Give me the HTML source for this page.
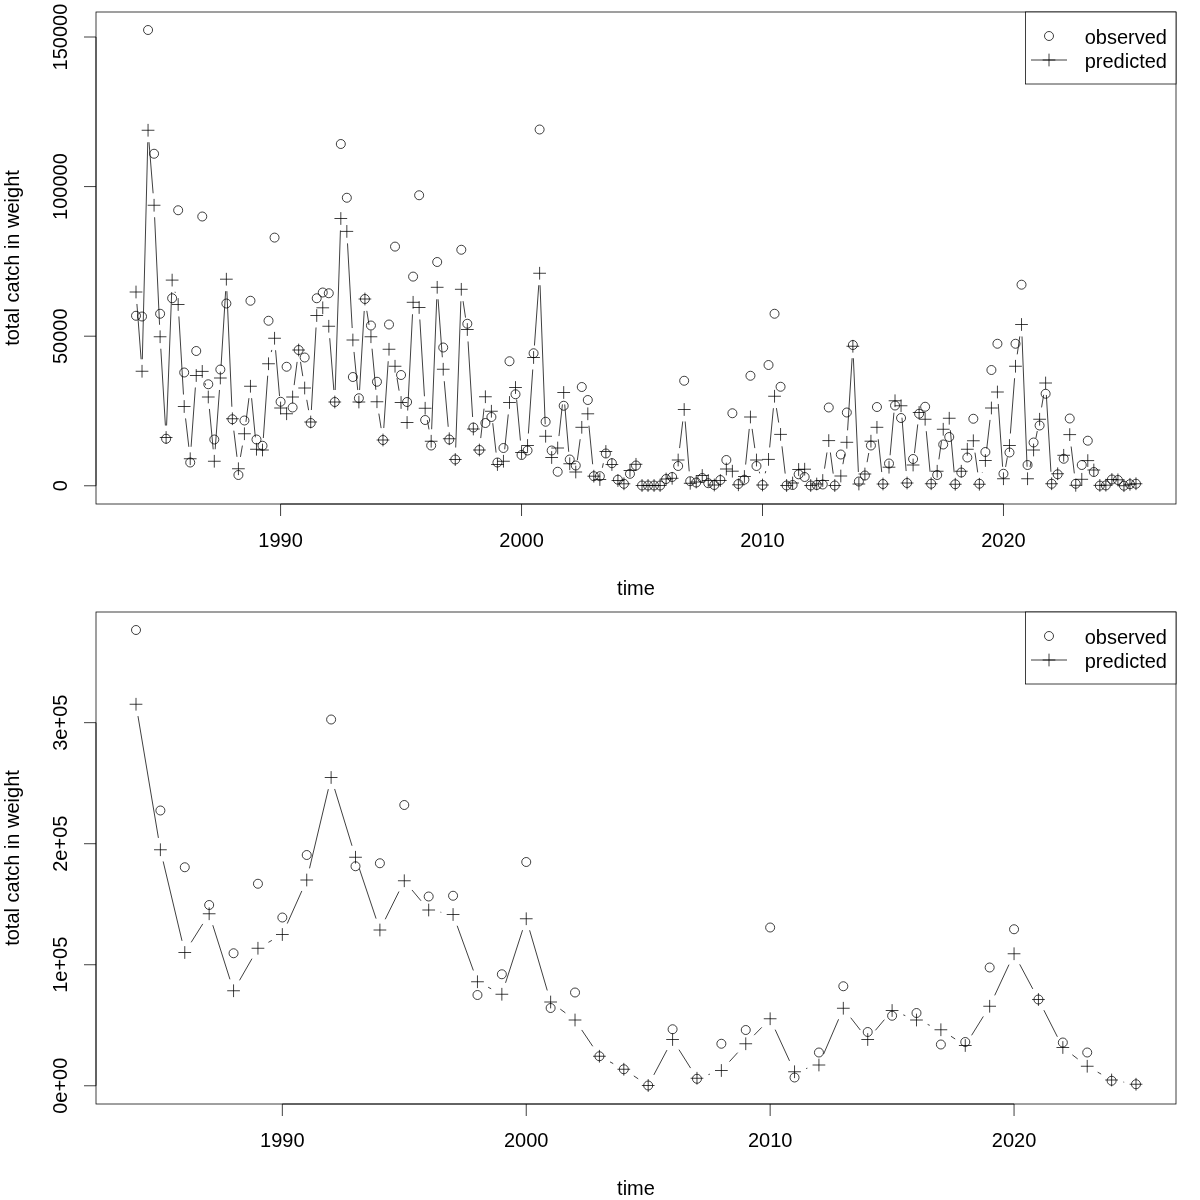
<!DOCTYPE html>
<html><head><meta charset="utf-8"><style>
html,body{margin:0;padding:0;background:#fff;}
svg{display:block;}
</style></head><body>
<svg width="1200" height="1200" viewBox="0 0 1200 1200">
<rect width="1200" height="1200" fill="#fff"/>
<g fill="none" stroke="#000" stroke-width="0.75">
<rect x="96" y="12" width="1080" height="492" fill="none"/>
<path d="M280.58 504H1003.47M280.58 504V516M521.54 504V516M762.51 504V516M1003.47 504V516"/>
<path d="M96 485.78V37M96 485.78H84M96 336.19H84M96 186.59H84M96 37H84"/>
<circle cx="136" cy="315.75" r="4.5"/>
<circle cx="142.02" cy="316.5" r="4.5"/>
<circle cx="148.05" cy="30" r="4.5"/>
<circle cx="154.07" cy="153.75" r="4.5"/>
<circle cx="160.1" cy="313.75" r="4.5"/>
<circle cx="166.12" cy="438.75" r="4.5"/>
<circle cx="172.14" cy="298.25" r="4.5"/>
<circle cx="178.17" cy="210.25" r="4.5"/>
<circle cx="184.19" cy="372.5" r="4.5"/>
<circle cx="190.22" cy="462.5" r="4.5"/>
<circle cx="196.24" cy="351" r="4.5"/>
<circle cx="202.26" cy="216.5" r="4.5"/>
<circle cx="208.29" cy="384.25" r="4.5"/>
<circle cx="214.31" cy="439.5" r="4.5"/>
<circle cx="220.34" cy="369.5" r="4.5"/>
<circle cx="226.36" cy="303.5" r="4.5"/>
<circle cx="232.38" cy="419.25" r="4.5"/>
<circle cx="238.41" cy="475" r="4.5"/>
<circle cx="244.43" cy="420.5" r="4.5"/>
<circle cx="250.46" cy="300.75" r="4.5"/>
<circle cx="256.48" cy="439.5" r="4.5"/>
<circle cx="262.5" cy="445.75" r="4.5"/>
<circle cx="268.53" cy="320.75" r="4.5"/>
<circle cx="274.55" cy="237.6" r="4.5"/>
<circle cx="280.58" cy="401.75" r="4.5"/>
<circle cx="286.6" cy="366.75" r="4.5"/>
<circle cx="292.62" cy="407.5" r="4.5"/>
<circle cx="298.65" cy="350" r="4.5"/>
<circle cx="304.67" cy="357.5" r="4.5"/>
<circle cx="310.7" cy="423" r="4.5"/>
<circle cx="316.72" cy="298.25" r="4.5"/>
<circle cx="322.74" cy="292.5" r="4.5"/>
<circle cx="328.77" cy="293.25" r="4.5"/>
<circle cx="334.79" cy="402" r="4.5"/>
<circle cx="340.82" cy="144" r="4.5"/>
<circle cx="346.84" cy="197.75" r="4.5"/>
<circle cx="352.86" cy="377" r="4.5"/>
<circle cx="358.89" cy="398.25" r="4.5"/>
<circle cx="364.91" cy="299" r="4.5"/>
<circle cx="370.94" cy="325.5" r="4.5"/>
<circle cx="376.96" cy="381.75" r="4.5"/>
<circle cx="382.98" cy="440" r="4.5"/>
<circle cx="389.01" cy="324.5" r="4.5"/>
<circle cx="395.03" cy="246.6" r="4.5"/>
<circle cx="401.06" cy="375" r="4.5"/>
<circle cx="407.08" cy="402" r="4.5"/>
<circle cx="413.1" cy="276.6" r="4.5"/>
<circle cx="419.13" cy="195.25" r="4.5"/>
<circle cx="425.15" cy="420" r="4.5"/>
<circle cx="431.18" cy="445.5" r="4.5"/>
<circle cx="437.2" cy="262" r="4.5"/>
<circle cx="443.22" cy="347.5" r="4.5"/>
<circle cx="449.25" cy="439.5" r="4.5"/>
<circle cx="455.27" cy="459.5" r="4.5"/>
<circle cx="461.3" cy="249.75" r="4.5"/>
<circle cx="467.32" cy="323.75" r="4.5"/>
<circle cx="473.34" cy="427.5" r="4.5"/>
<circle cx="479.37" cy="450" r="4.5"/>
<circle cx="485.39" cy="423" r="4.5"/>
<circle cx="491.42" cy="417" r="4.5"/>
<circle cx="497.44" cy="462.5" r="4.5"/>
<circle cx="503.46" cy="448" r="4.5"/>
<circle cx="509.49" cy="361.25" r="4.5"/>
<circle cx="515.51" cy="394.25" r="4.5"/>
<circle cx="521.54" cy="455" r="4.5"/>
<circle cx="527.56" cy="450.5" r="4.5"/>
<circle cx="533.58" cy="353.25" r="4.5"/>
<circle cx="539.61" cy="129.5" r="4.5"/>
<circle cx="545.63" cy="421.75" r="4.5"/>
<circle cx="551.66" cy="450.5" r="4.5"/>
<circle cx="557.68" cy="471.75" r="4.5"/>
<circle cx="563.7" cy="405.75" r="4.5"/>
<circle cx="569.73" cy="459.5" r="4.5"/>
<circle cx="575.75" cy="465.5" r="4.5"/>
<circle cx="581.78" cy="387" r="4.5"/>
<circle cx="587.8" cy="400" r="4.5"/>
<circle cx="593.82" cy="476.2" r="4.5"/>
<circle cx="599.85" cy="476.2" r="4.5"/>
<circle cx="605.87" cy="453.5" r="4.5"/>
<circle cx="611.9" cy="463.2" r="4.5"/>
<circle cx="617.92" cy="479.7" r="4.5"/>
<circle cx="623.94" cy="483.8" r="4.5"/>
<circle cx="629.97" cy="473.8" r="4.5"/>
<circle cx="635.99" cy="465.5" r="4.5"/>
<circle cx="642.02" cy="485.5" r="4.5"/>
<circle cx="648.04" cy="485.5" r="4.5"/>
<circle cx="654.06" cy="485.5" r="4.5"/>
<circle cx="660.09" cy="485.5" r="4.5"/>
<circle cx="666.11" cy="479" r="4.5"/>
<circle cx="672.14" cy="477" r="4.5"/>
<circle cx="678.16" cy="466" r="4.5"/>
<circle cx="684.18" cy="380.75" r="4.5"/>
<circle cx="690.21" cy="481.2" r="4.5"/>
<circle cx="696.23" cy="482.5" r="4.5"/>
<circle cx="702.26" cy="478" r="4.5"/>
<circle cx="708.28" cy="483.2" r="4.5"/>
<circle cx="714.3" cy="485" r="4.5"/>
<circle cx="720.33" cy="480" r="4.5"/>
<circle cx="726.35" cy="460" r="4.5"/>
<circle cx="732.38" cy="413.25" r="4.5"/>
<circle cx="738.4" cy="484" r="4.5"/>
<circle cx="744.42" cy="479.7" r="4.5"/>
<circle cx="750.45" cy="375.75" r="4.5"/>
<circle cx="756.47" cy="466" r="4.5"/>
<circle cx="762.5" cy="485" r="4.5"/>
<circle cx="768.52" cy="365" r="4.5"/>
<circle cx="774.54" cy="313.75" r="4.5"/>
<circle cx="780.57" cy="386.75" r="4.5"/>
<circle cx="786.59" cy="485.5" r="4.5"/>
<circle cx="792.62" cy="485" r="4.5"/>
<circle cx="798.64" cy="474.3" r="4.5"/>
<circle cx="804.66" cy="477" r="4.5"/>
<circle cx="810.69" cy="485.5" r="4.5"/>
<circle cx="816.71" cy="485" r="4.5"/>
<circle cx="822.74" cy="484.5" r="4.5"/>
<circle cx="828.76" cy="407.5" r="4.5"/>
<circle cx="834.78" cy="485.5" r="4.5"/>
<circle cx="840.81" cy="454.5" r="4.5"/>
<circle cx="846.83" cy="412.5" r="4.5"/>
<circle cx="852.86" cy="345" r="4.5"/>
<circle cx="858.88" cy="481.5" r="4.5"/>
<circle cx="864.9" cy="475.5" r="4.5"/>
<circle cx="870.93" cy="445.5" r="4.5"/>
<circle cx="876.95" cy="407" r="4.5"/>
<circle cx="882.98" cy="484" r="4.5"/>
<circle cx="889" cy="463.5" r="4.5"/>
<circle cx="895.02" cy="405.5" r="4.5"/>
<circle cx="901.05" cy="418" r="4.5"/>
<circle cx="907.07" cy="483" r="4.5"/>
<circle cx="913.1" cy="459" r="4.5"/>
<circle cx="919.12" cy="413.75" r="4.5"/>
<circle cx="925.14" cy="406.75" r="4.5"/>
<circle cx="931.17" cy="483.75" r="4.5"/>
<circle cx="937.19" cy="475" r="4.5"/>
<circle cx="943.22" cy="444.5" r="4.5"/>
<circle cx="949.24" cy="437" r="4.5"/>
<circle cx="955.26" cy="484.25" r="4.5"/>
<circle cx="961.29" cy="472.5" r="4.5"/>
<circle cx="967.31" cy="457.5" r="4.5"/>
<circle cx="973.34" cy="418.75" r="4.5"/>
<circle cx="979.36" cy="483.75" r="4.5"/>
<circle cx="985.38" cy="452" r="4.5"/>
<circle cx="991.41" cy="370" r="4.5"/>
<circle cx="997.43" cy="343.75" r="4.5"/>
<circle cx="1003.46" cy="473.75" r="4.5"/>
<circle cx="1009.48" cy="452.5" r="4.5"/>
<circle cx="1015.5" cy="343.75" r="4.5"/>
<circle cx="1021.53" cy="284.7" r="4.5"/>
<circle cx="1027.55" cy="465" r="4.5"/>
<circle cx="1033.58" cy="442.5" r="4.5"/>
<circle cx="1039.6" cy="425.5" r="4.5"/>
<circle cx="1045.62" cy="393.75" r="4.5"/>
<circle cx="1051.65" cy="483.75" r="4.5"/>
<circle cx="1057.67" cy="474.3" r="4.5"/>
<circle cx="1063.7" cy="458.75" r="4.5"/>
<circle cx="1069.72" cy="418.5" r="4.5"/>
<circle cx="1075.74" cy="483.75" r="4.5"/>
<circle cx="1081.77" cy="465" r="4.5"/>
<circle cx="1087.79" cy="440.7" r="4.5"/>
<circle cx="1093.82" cy="472" r="4.5"/>
<circle cx="1099.84" cy="485.6" r="4.5"/>
<circle cx="1105.86" cy="485.4" r="4.5"/>
<circle cx="1111.89" cy="479.5" r="4.5"/>
<circle cx="1117.91" cy="480" r="4.5"/>
<circle cx="1123.94" cy="485.7" r="4.5"/>
<circle cx="1129.96" cy="484.2" r="4.5"/>
<circle cx="1135.98" cy="483.75" r="4.5"/>
<path d="M129.64 292H142.36M136 285.64V298.36"/>
<path d="M135.66 371.25H148.39M142.02 364.89V377.61"/>
<path d="M141.68 130.25H154.41M148.05 123.89V136.61"/>
<path d="M147.71 205.25H160.44M154.07 198.89V211.61"/>
<path d="M153.73 336.75H166.46M160.1 330.39V343.11"/>
<path d="M159.76 437.5H172.48M166.12 431.14V443.86"/>
<path d="M165.78 280.1H178.51M172.14 273.74V286.46"/>
<path d="M171.8 304.5H184.53M178.17 298.14V310.86"/>
<path d="M177.83 406.5H190.56M184.19 400.14V412.86"/>
<path d="M183.85 458.75H196.58M190.22 452.39V465.11"/>
<path d="M189.88 375.5H202.6M196.24 369.14V381.86"/>
<path d="M195.9 371.4H208.63M202.26 365.04V377.76"/>
<path d="M201.92 397H214.65M208.29 390.64V403.36"/>
<path d="M207.95 461.25H220.68M214.31 454.89V467.61"/>
<path d="M213.97 378H226.7M220.34 371.64V384.36"/>
<path d="M220 279.2H232.72M226.36 272.84V285.56"/>
<path d="M226.02 418.75H238.75M232.38 412.39V425.11"/>
<path d="M232.04 468.75H244.77M238.41 462.39V475.11"/>
<path d="M238.07 433.75H250.8M244.43 427.39V440.11"/>
<path d="M244.09 386.25H256.82M250.46 379.89V392.61"/>
<path d="M250.12 449.25H262.84M256.48 442.89V455.61"/>
<path d="M256.14 450H268.87M262.5 443.64V456.36"/>
<path d="M262.16 363.75H274.89M268.53 357.39V370.11"/>
<path d="M268.19 338.25H280.92M274.55 331.89V344.61"/>
<path d="M274.21 408H286.94M280.58 401.64V414.36"/>
<path d="M280.24 413.75H292.96M286.6 407.39V420.11"/>
<path d="M286.26 397H298.99M292.62 390.64V403.36"/>
<path d="M292.28 350H305.01M298.65 343.64V356.36"/>
<path d="M298.31 388H311.04M304.67 381.64V394.36"/>
<path d="M304.33 422H317.06M310.7 415.64V428.36"/>
<path d="M310.36 315.5H323.08M316.72 309.14V321.86"/>
<path d="M316.38 307.8H329.11M322.74 301.44V314.16"/>
<path d="M322.4 326.25H335.13M328.77 319.89V332.61"/>
<path d="M328.43 402H341.16M334.79 395.64V408.36"/>
<path d="M334.45 218.5H347.18M340.82 212.14V224.86"/>
<path d="M340.48 231.4H353.2M346.84 225.04V237.76"/>
<path d="M346.5 340H359.23M352.86 333.64V346.36"/>
<path d="M352.52 402H365.25M358.89 395.64V408.36"/>
<path d="M358.55 299H371.28M364.91 292.64V305.36"/>
<path d="M364.57 336.75H377.3M370.94 330.39V343.11"/>
<path d="M370.6 401.75H383.32M376.96 395.39V408.11"/>
<path d="M376.62 440H389.35M382.98 433.64V446.36"/>
<path d="M382.64 349.25H395.37M389.01 342.89V355.61"/>
<path d="M388.67 366.25H401.4M395.03 359.89V372.61"/>
<path d="M394.69 402.5H407.42M401.06 396.14V408.86"/>
<path d="M400.72 422.5H413.44M407.08 416.14V428.86"/>
<path d="M406.74 302.3H419.47M413.1 295.94V308.66"/>
<path d="M412.76 307.5H425.49M419.13 301.14V313.86"/>
<path d="M418.79 408.25H431.52M425.15 401.89V414.61"/>
<path d="M424.81 441.25H437.54M431.18 434.89V447.61"/>
<path d="M430.84 287.3H443.56M437.2 280.94V293.66"/>
<path d="M436.86 369.25H449.59M443.22 362.89V375.61"/>
<path d="M442.88 438.75H455.61M449.25 432.39V445.11"/>
<path d="M448.91 459.5H461.64M455.27 453.14V465.86"/>
<path d="M454.93 289.3H467.66M461.3 282.94V295.66"/>
<path d="M460.96 329.5H473.68M467.32 323.14V335.86"/>
<path d="M466.98 429H479.71M473.34 422.64V435.36"/>
<path d="M473 450H485.73M479.37 443.64V456.36"/>
<path d="M479.03 396.75H491.76M485.39 390.39V403.11"/>
<path d="M485.05 411.25H497.78M491.42 404.89V417.61"/>
<path d="M491.08 464.5H503.8M497.44 458.14V470.86"/>
<path d="M497.1 461.25H509.83M503.46 454.89V467.61"/>
<path d="M503.12 402.5H515.85M509.49 396.14V408.86"/>
<path d="M509.15 387.5H521.88M515.51 381.14V393.86"/>
<path d="M515.17 452.5H527.9M521.54 446.14V458.86"/>
<path d="M521.2 445.5H533.92M527.56 439.14V451.86"/>
<path d="M527.22 357.5H539.95M533.58 351.14V363.86"/>
<path d="M533.24 273.25H545.97M539.61 266.89V279.61"/>
<path d="M539.27 436.25H552M545.63 429.89V442.61"/>
<path d="M545.29 457.5H558.02M551.66 451.14V463.86"/>
<path d="M551.32 448H564.04M557.68 441.64V454.36"/>
<path d="M557.34 392.5H570.07M563.7 386.14V398.86"/>
<path d="M563.36 463.75H576.09M569.73 457.39V470.11"/>
<path d="M569.39 472H582.12M575.75 465.64V478.36"/>
<path d="M575.41 427.3H588.14M581.78 420.94V433.66"/>
<path d="M581.44 413.8H594.16M587.8 407.44V420.16"/>
<path d="M587.46 476.2H600.19M593.82 469.84V482.56"/>
<path d="M593.48 479.5H606.21M599.85 473.14V485.86"/>
<path d="M599.51 451.5H612.24M605.87 445.14V457.86"/>
<path d="M605.53 464.5H618.26M611.9 458.14V470.86"/>
<path d="M611.56 480.5H624.28M617.92 474.14V486.86"/>
<path d="M617.58 483.8H630.31M623.94 477.44V490.16"/>
<path d="M623.6 470.5H636.33M629.97 464.14V476.86"/>
<path d="M629.63 464.3H642.36M635.99 457.94V470.66"/>
<path d="M635.65 485.5H648.38M642.02 479.14V491.86"/>
<path d="M641.68 485.5H654.4M648.04 479.14V491.86"/>
<path d="M647.7 485.5H660.43M654.06 479.14V491.86"/>
<path d="M653.72 485.5H666.45M660.09 479.14V491.86"/>
<path d="M659.75 479H672.48M666.11 472.64V485.36"/>
<path d="M665.77 478.3H678.5M672.14 471.94V484.66"/>
<path d="M671.8 460H684.52M678.16 453.64V466.36"/>
<path d="M677.82 409.5H690.55M684.18 403.14V415.86"/>
<path d="M683.84 483.3H696.57M690.21 476.94V489.66"/>
<path d="M689.87 482H702.6M696.23 475.64V488.36"/>
<path d="M695.89 475.5H708.62M702.26 469.14V481.86"/>
<path d="M701.92 480.5H714.64M708.28 474.14V486.86"/>
<path d="M707.94 485H720.67M714.3 478.64V491.36"/>
<path d="M713.96 480.5H726.69M720.33 474.14V486.86"/>
<path d="M719.99 469H732.72M726.35 462.64V475.36"/>
<path d="M726.01 471.2H738.74M732.38 464.84V477.56"/>
<path d="M732.04 484.8H744.76M738.4 478.44V491.16"/>
<path d="M738.06 476.5H750.79M744.42 470.14V482.86"/>
<path d="M744.08 417H756.81M750.45 410.64V423.36"/>
<path d="M750.11 460H762.84M756.47 453.64V466.36"/>
<path d="M756.13 485H768.86M762.5 478.64V491.36"/>
<path d="M762.16 459.4H774.88M768.52 453.04V465.76"/>
<path d="M768.18 396.25H780.91M774.54 389.89V402.61"/>
<path d="M774.2 434.4H786.93M780.57 428.04V440.76"/>
<path d="M780.23 485.5H792.96M786.59 479.14V491.86"/>
<path d="M786.25 483H798.98M792.62 476.64V489.36"/>
<path d="M792.28 469.5H805M798.64 463.14V475.86"/>
<path d="M798.3 469.2H811.03M804.66 462.84V475.56"/>
<path d="M804.32 485.5H817.05M810.69 479.14V491.86"/>
<path d="M810.35 484H823.08M816.71 477.64V490.36"/>
<path d="M816.37 480.5H829.1M822.74 474.14V486.86"/>
<path d="M822.4 440.6H835.12M828.76 434.24V446.96"/>
<path d="M828.42 485.5H841.15M834.78 479.14V491.86"/>
<path d="M834.44 476H847.17M840.81 469.64V482.36"/>
<path d="M840.47 442.3H853.2M846.83 435.94V448.66"/>
<path d="M846.49 346.25H859.22M852.86 339.89V352.61"/>
<path d="M852.52 484H865.24M858.88 477.64V490.36"/>
<path d="M858.54 474H871.27M864.9 467.64V480.36"/>
<path d="M864.56 441.2H877.29M870.93 434.84V447.56"/>
<path d="M870.59 427.3H883.32M876.95 420.94V433.66"/>
<path d="M876.61 484H889.34M882.98 477.64V490.36"/>
<path d="M882.64 467.2H895.36M889 460.84V473.56"/>
<path d="M888.66 400.75H901.39M895.02 394.39V407.11"/>
<path d="M894.68 405.75H907.41M901.05 399.39V412.11"/>
<path d="M900.71 483H913.44M907.07 476.64V489.36"/>
<path d="M906.73 465H919.46M913.1 458.64V471.36"/>
<path d="M912.76 412.5H925.48M919.12 406.14V418.86"/>
<path d="M918.78 419.25H931.51M925.14 412.89V425.61"/>
<path d="M924.8 483.75H937.53M931.17 477.39V490.11"/>
<path d="M930.83 471.25H943.56M937.19 464.89V477.61"/>
<path d="M936.85 429.25H949.58M943.22 422.89V435.61"/>
<path d="M942.88 418.25H955.6M949.24 411.89V424.61"/>
<path d="M948.9 484.25H961.63M955.26 477.89V490.61"/>
<path d="M954.92 471.25H967.65M961.29 464.89V477.61"/>
<path d="M960.95 449.25H973.68M967.31 442.89V455.61"/>
<path d="M966.97 440.75H979.7M973.34 434.39V447.11"/>
<path d="M973 484.25H985.72M979.36 477.89V490.61"/>
<path d="M979.02 460.5H991.75M985.38 454.14V466.86"/>
<path d="M985.04 408H997.77M991.41 401.64V414.36"/>
<path d="M991.07 392H1003.8M997.43 385.64V398.36"/>
<path d="M997.09 478.75H1009.82M1003.46 472.39V485.11"/>
<path d="M1003.12 445.5H1015.84M1009.48 439.14V451.86"/>
<path d="M1009.14 366.25H1021.87M1015.5 359.89V372.61"/>
<path d="M1015.16 324.5H1027.89M1021.53 318.14V330.86"/>
<path d="M1021.19 478.75H1033.92M1027.55 472.39V485.11"/>
<path d="M1027.21 450H1039.94M1033.58 443.64V456.36"/>
<path d="M1033.24 419.25H1045.96M1039.6 412.89V425.61"/>
<path d="M1039.26 383H1051.99M1045.62 376.64V389.36"/>
<path d="M1045.28 483.75H1058.01M1051.65 477.39V490.11"/>
<path d="M1051.31 473.75H1064.04M1057.67 467.39V480.11"/>
<path d="M1057.33 455.3H1070.06M1063.7 448.94V461.66"/>
<path d="M1063.36 434.6H1076.08M1069.72 428.24V440.96"/>
<path d="M1069.38 485.3H1082.11M1075.74 478.94V491.66"/>
<path d="M1075.4 479.3H1088.13M1081.77 472.94V485.66"/>
<path d="M1081.43 460.6H1094.16M1087.79 454.24V466.96"/>
<path d="M1087.45 470H1100.18M1093.82 463.64V476.36"/>
<path d="M1093.48 485.4H1106.2M1099.84 479.04V491.76"/>
<path d="M1099.5 485.2H1112.23M1105.86 478.84V491.56"/>
<path d="M1105.52 479.5H1118.25M1111.89 473.14V485.86"/>
<path d="M1111.55 479.8H1124.28M1117.91 473.44V486.16"/>
<path d="M1117.57 485.7H1130.3M1123.94 479.34V492.06"/>
<path d="M1123.6 484.3H1136.32M1129.96 477.94V490.66"/>
<path d="M1129.62 483.75H1142.35M1135.98 477.39V490.11"/>
<path d="M136.91 303.97L141.11 359.28M142.32 359.25L147.75 142.25M149.01 142.21L153.11 193.29M154.62 217.24L159.55 324.76M160.81 348.73L165.4 425.52M166.58 425.51L171.69 292.09M175.02 291.75L175.29 292.85M178.88 316.48L183.48 394.52M185.57 418.42L188.84 446.83M191.08 446.78L195.37 387.47M205.01 383.08L205.54 385.32M209.41 408.95L213.19 449.3M215.18 449.28L219.47 389.97M221.07 366.02L225.63 291.18M226.88 291.19L231.87 406.76M233.82 430.66L236.97 456.84M240.44 456.92L242.4 445.58M245.94 421.85L248.95 398.15M251.6 398.2L255.34 437.3M263.34 438.03L267.69 375.72M271.29 352.07L271.79 349.93M275.58 350.21L279.54 396.04M294.15 385.1L297.12 361.9M300.53 361.85L302.79 376.15M306.77 399.82L308.6 410.18M311.37 410.02L316.04 327.48M329.72 338.21L333.84 390.04M335.19 390.01L340.42 230.49M347.5 243.38L352.2 328.02M354.02 351.94L357.73 390.06M359.59 390.02L364.21 310.98M366.8 310.85L369.05 324.9M372.04 348.7L375.85 389.8M378.83 413.6L381.12 428.15M383.78 428.03L388.21 361.22M397 378.09L399.09 390.66M407.68 410.52L412.5 314.28M419.84 319.48L424.44 396.27M427.31 420.05L429.02 429.45M431.65 429.26L436.73 299.29M438.08 299.27L442.34 357.28M444.26 381.21L448.21 426.79M455.7 447.51L460.87 301.29M463.07 301.17L465.54 317.63M468.05 341.48L472.62 417.02M480.72 438.08L484.04 408.67M492.76 423.17L496.09 452.58M504.69 449.31L508.26 414.44M516.62 399.45L520.43 440.55M528.38 433.53L532.76 369.47M534.44 345.53L538.75 285.22M540.05 285.24L545.19 424.26M558.97 436.07L562.41 404.43M564.71 404.46L568.72 451.79M577.35 460.11L580.17 439.19M588.95 425.74L592.67 464.26M602.37 467.77L603.35 463.23M679.58 448.08L682.76 421.42M685.16 421.46L689.23 471.34M745.63 464.56L749.24 428.94M752.11 428.88L754.81 448.12M759.28 471.67L759.68 473.33M765.24 473.32L765.77 471.08M769.66 447.45L773.4 408.2M776.42 408.1L778.7 422.55M781.97 446.32L785.19 473.58M824.53 468.63L826.97 452.47M830.36 452.49L833.19 473.61M842.92 464.19L844.72 454.11M847.58 430.32L852.1 358.23M853.38 358.24L858.36 472.01M867.07 462.2L868.76 453M878.22 439.23L881.71 472.07M890.08 455.25L893.94 412.7M901.98 417.71L906.14 471.04M914.46 453.08L917.75 424.42M926.26 431.2L930.05 471.8M938.9 459.37L941.51 441.13M950.33 430.2L954.17 472.3M974.98 452.64L977.71 472.36M982.31 472.62L982.43 472.13M986.75 448.58L990.04 419.92M998.26 403.97L1002.62 466.78M1005.6 466.94L1007.34 457.31M1010.39 433.53L1014.59 378.22M1017.22 354.37L1019.81 336.38M1022 336.49L1027.08 466.76M1030.01 467.01L1031.12 461.74M1035.88 438.22L1037.29 431.03M1041.57 407.41L1043.66 394.84M1046.34 394.98L1050.93 471.77M1071.14 446.52L1074.33 473.38"/>
<rect x="1025.45" y="12" width="150.55" height="72" fill="#fff"/>
<circle cx="1049" cy="36" r="4.5"/>
<path d="M1031 60H1067"/>
<path d="M1042.64 60H1055.36M1049 53.64V66.36"/>
<rect x="96" y="612" width="1080" height="492" fill="none"/>
<path d="M282.34 1104H1014.05M282.34 1104V1116M526.24 1104V1116M770.15 1104V1116M1014.05 1104V1116"/>
<path d="M96 1085.78V722.67M96 1085.78H84M96 964.74H84M96 843.71H84M96 722.67H84"/>
<circle cx="136" cy="630" r="4.5"/>
<circle cx="160.39" cy="810.5" r="4.5"/>
<circle cx="184.78" cy="867.25" r="4.5"/>
<circle cx="209.17" cy="905" r="4.5"/>
<circle cx="233.56" cy="953.25" r="4.5"/>
<circle cx="257.95" cy="883.75" r="4.5"/>
<circle cx="282.34" cy="917.5" r="4.5"/>
<circle cx="306.73" cy="855" r="4.5"/>
<circle cx="331.12" cy="719.5" r="4.5"/>
<circle cx="355.51" cy="866.25" r="4.5"/>
<circle cx="379.9" cy="863.25" r="4.5"/>
<circle cx="404.29" cy="805" r="4.5"/>
<circle cx="428.68" cy="896.5" r="4.5"/>
<circle cx="453.07" cy="895.75" r="4.5"/>
<circle cx="477.46" cy="995" r="4.5"/>
<circle cx="501.85" cy="974.25" r="4.5"/>
<circle cx="526.24" cy="862" r="4.5"/>
<circle cx="550.63" cy="1008" r="4.5"/>
<circle cx="575.02" cy="992.5" r="4.5"/>
<circle cx="599.41" cy="1056.25" r="4.5"/>
<circle cx="623.8" cy="1069.25" r="4.5"/>
<circle cx="648.2" cy="1085.5" r="4.5"/>
<circle cx="672.59" cy="1029.25" r="4.5"/>
<circle cx="696.98" cy="1078.75" r="4.5"/>
<circle cx="721.37" cy="1043.75" r="4.5"/>
<circle cx="745.76" cy="1030" r="4.5"/>
<circle cx="770.15" cy="927.5" r="4.5"/>
<circle cx="794.54" cy="1077.5" r="4.5"/>
<circle cx="818.93" cy="1052.5" r="4.5"/>
<circle cx="843.32" cy="986.25" r="4.5"/>
<circle cx="867.71" cy="1032" r="4.5"/>
<circle cx="892.1" cy="1015.75" r="4.5"/>
<circle cx="916.49" cy="1013" r="4.5"/>
<circle cx="940.88" cy="1044.5" r="4.5"/>
<circle cx="965.27" cy="1042" r="4.5"/>
<circle cx="989.66" cy="967.5" r="4.5"/>
<circle cx="1014.05" cy="929.25" r="4.5"/>
<circle cx="1038.44" cy="999.5" r="4.5"/>
<circle cx="1062.83" cy="1042.5" r="4.5"/>
<circle cx="1087.22" cy="1052.5" r="4.5"/>
<circle cx="1111.61" cy="1080.75" r="4.5"/>
<circle cx="1136" cy="1084.25" r="4.5"/>
<path d="M129.64 704.25H142.36M136 697.89V710.61"/>
<path d="M154.03 849.75H166.75M160.39 843.39V856.11"/>
<path d="M178.42 952.5H191.14M184.78 946.14V958.86"/>
<path d="M202.81 913.75H215.53M209.17 907.39V920.11"/>
<path d="M227.2 990.75H239.92M233.56 984.39V997.11"/>
<path d="M251.59 948.25H264.32M257.95 941.89V954.61"/>
<path d="M275.98 934.5H288.71M282.34 928.14V940.86"/>
<path d="M300.37 880H313.1M306.73 873.64V886.36"/>
<path d="M324.76 777.5H337.49M331.12 771.14V783.86"/>
<path d="M349.15 857.25H361.88M355.51 850.89V863.61"/>
<path d="M373.54 930H386.27M379.9 923.64V936.36"/>
<path d="M397.93 880.75H410.66M404.29 874.39V887.11"/>
<path d="M422.32 910H435.05M428.68 903.64V916.36"/>
<path d="M446.71 914.5H459.44M453.07 908.14V920.86"/>
<path d="M471.1 981.75H483.83M477.46 975.39V988.11"/>
<path d="M495.49 994.25H508.22M501.85 987.89V1000.61"/>
<path d="M519.88 918.75H532.61M526.24 912.39V925.11"/>
<path d="M544.27 1002H557M550.63 995.64V1008.36"/>
<path d="M568.66 1020H581.39M575.02 1013.64V1026.36"/>
<path d="M593.05 1056.25H605.78M599.41 1049.89V1062.61"/>
<path d="M617.44 1069.25H630.17M623.8 1062.89V1075.61"/>
<path d="M641.83 1085.5H654.56M648.2 1079.14V1091.86"/>
<path d="M666.22 1039.5H678.95M672.59 1033.14V1045.86"/>
<path d="M690.61 1078.25H703.34M696.98 1071.89V1084.61"/>
<path d="M715 1070.5H727.73M721.37 1064.14V1076.86"/>
<path d="M739.39 1043.75H752.12M745.76 1037.39V1050.11"/>
<path d="M763.78 1018.75H776.51M770.15 1012.39V1025.11"/>
<path d="M788.17 1071.75H800.9M794.54 1065.39V1078.11"/>
<path d="M812.56 1065H825.29M818.93 1058.64V1071.36"/>
<path d="M836.95 1008.25H849.68M843.32 1001.89V1014.61"/>
<path d="M861.34 1039.5H874.07M867.71 1033.14V1045.86"/>
<path d="M885.73 1010.5H898.46M892.1 1004.14V1016.86"/>
<path d="M910.12 1020H922.85M916.49 1013.64V1026.36"/>
<path d="M934.51 1029.75H947.24M940.88 1023.39V1036.11"/>
<path d="M958.9 1045.5H971.63M965.27 1039.14V1051.86"/>
<path d="M983.29 1006.25H996.02M989.66 999.89V1012.61"/>
<path d="M1007.68 953.75H1020.41M1014.05 947.39V960.11"/>
<path d="M1032.08 999.5H1044.8M1038.44 993.14V1005.86"/>
<path d="M1056.47 1047.5H1069.19M1062.83 1041.14V1053.86"/>
<path d="M1080.86 1066.25H1093.58M1087.22 1059.89V1072.61"/>
<path d="M1105.25 1080H1117.97M1111.61 1073.64V1086.36"/>
<path d="M1129.64 1084.25H1142.36M1136 1077.89V1090.61"/>
<path d="M137.98 716.08L158.41 837.92M163.16 861.43L182.01 940.82M191.17 942.34L202.78 923.91M212.79 925.19L229.94 979.31M239.53 980.34L251.98 958.66M268.4 942.36L271.89 940.39M287.24 923.55L301.83 890.95M309.51 868.33L328.34 789.17M334.63 788.98L352 845.77M359.33 868.63L376.09 918.62M385.23 919.25L398.97 891.5M411.98 889.97L421 900.78M440.48 912.18L441.27 912.32M457.16 925.78L473.37 970.47M488.14 987.22L491.17 988.78M505.54 982.83L522.56 930.17M529.62 930.27L547.26 990.48M560.29 1009.13L565.37 1012.87M581.72 1029.96L592.72 1046.29M610 1061.89L613.22 1063.61M633.79 1075.9L638.21 1078.85M653.82 1074.9L666.96 1050.1M678.98 1049.66L690.58 1068.09M708.41 1074.62L709.93 1074.13M729.45 1061.63L737.67 1052.62M754.14 1035.16L761.77 1027.34M775.16 1029.65L789.52 1060.85M806.1 1068.55L807.36 1068.2M823.67 1053.98L838.58 1019.27M850.7 1017.71L860.32 1030.04M875.43 1030.32L884.37 1019.68M903.28 1014.86L905.31 1015.64M927.63 1024.45L929.74 1025.3M950.96 1036.26L955.19 1038.99M971.6 1035.31L983.32 1016.44M994.71 995.37L1008.99 964.63M1019.69 964.34L1032.79 988.91M1043.88 1010.2L1057.39 1036.8M1072.34 1054.81L1077.71 1058.94M1097.67 1072.14L1101.16 1074.11M1123.43 1082.06L1124.18 1082.19"/>
<rect x="1025.45" y="612" width="150.55" height="72" fill="#fff"/>
<circle cx="1049" cy="636" r="4.5"/>
<path d="M1031 660H1067"/>
<path d="M1042.64 660H1055.36M1049 653.64V666.36"/>
</g>
<g fill="#000" font-family="Liberation Sans, Arial, sans-serif" font-size="20" style="will-change:transform">
<text x="280.58" y="547" text-anchor="middle">1990</text>
<text x="521.54" y="547" text-anchor="middle">2000</text>
<text x="762.51" y="547" text-anchor="middle">2010</text>
<text x="1003.47" y="547" text-anchor="middle">2020</text>
<text transform="translate(67,485.78) rotate(-90)" text-anchor="middle">0</text>
<text transform="translate(67,336.19) rotate(-90)" text-anchor="middle">50000</text>
<text transform="translate(67,186.59) rotate(-90)" text-anchor="middle">100000</text>
<text transform="translate(67,37) rotate(-90)" text-anchor="middle">150000</text>
<text x="636" y="594.7" text-anchor="middle">time</text>
<text transform="translate(19,258) rotate(-90)" text-anchor="middle">total catch in weight</text>
<text x="1084.7" y="44">observed</text>
<text x="1084.7" y="68">predicted</text>
<text x="282.34" y="1147" text-anchor="middle">1990</text>
<text x="526.24" y="1147" text-anchor="middle">2000</text>
<text x="770.15" y="1147" text-anchor="middle">2010</text>
<text x="1014.05" y="1147" text-anchor="middle">2020</text>
<text transform="translate(67,1085.78) rotate(-90)" text-anchor="middle">0e+00</text>
<text transform="translate(67,964.74) rotate(-90)" text-anchor="middle">1e+05</text>
<text transform="translate(67,843.71) rotate(-90)" text-anchor="middle">2e+05</text>
<text transform="translate(67,722.67) rotate(-90)" text-anchor="middle">3e+05</text>
<text x="636" y="1194.7" text-anchor="middle">time</text>
<text transform="translate(19,858) rotate(-90)" text-anchor="middle">total catch in weight</text>
<text x="1084.7" y="644">observed</text>
<text x="1084.7" y="668">predicted</text>
</g>
</svg>
</body></html>
